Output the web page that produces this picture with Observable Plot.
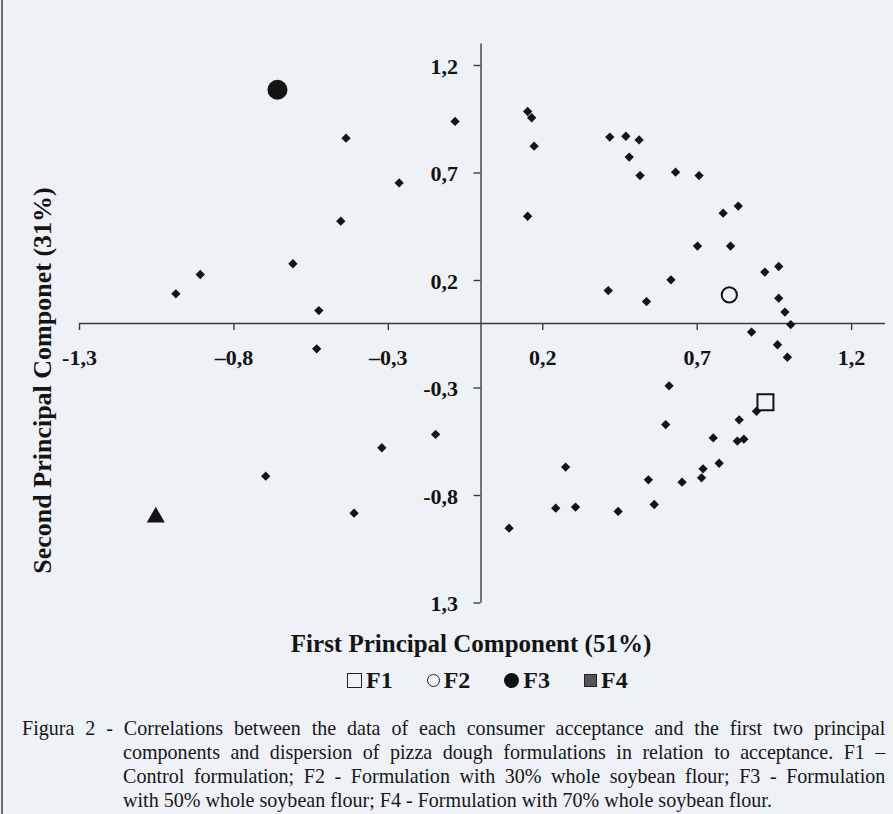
<!DOCTYPE html>
<html><head><meta charset="utf-8">
<script src="https://cdn.jsdelivr.net/npm/d3@7"></script>
<script src="https://cdn.jsdelivr.net/npm/@observablehq/plot@0.6"></script>
<style>
html,body{margin:0;padding:0;background:#eef1f6;}
body{width:893px;height:814px;overflow:hidden;position:relative;font-family:"Liberation Serif","Times New Roman",serif;color:#161616;}
#frameline{position:absolute;left:1px;top:0;width:2px;height:814px;background:#6a6d72;}
#chart{position:absolute;left:0;top:0;}
#legend{position:absolute;top:666px;left:347px;height:28px;display:flex;align-items:center;gap:34px;font-weight:bold;font-size:24px;}
#legend .item{display:flex;align-items:center;gap:4px;}
#legend .sym{display:inline-block;box-sizing:border-box;}
#caption{position:absolute;left:22px;top:716px;width:904px;transform:scaleX(0.955);transform-origin:left top;font-size:21px;line-height:24px;white-space:nowrap;}
#caption .ln{text-align:justify;text-align-last:justify;}
#caption .ln.last{text-align-last:left;}
#caption .ind{padding-left:105.8px;}
</style></head><body>
<div id="frameline"></div>
<div id="chart"></div>
<div id="legend"></div>
<div id="caption"></div>
<script>
// ---- data ----
const consumerX = [-0.454,-0.609,-0.909,-0.988,-0.525,-0.437,-0.265,-0.084,0.151,0.164,0.172,0.151,0.417,0.412,0.469,0.512,0.480,0.515,0.630,0.706,0.784,0.833,0.701,0.808,0.964,0.919,0.615,0.536,0.964,0.984,1.003,0.876,0.960,0.992,0.609,0.892,0.836,0.598,0.752,0.830,0.851,0.771,0.719,0.714,0.542,0.651,0.561,0.444,-0.147,-0.321,-0.411,0.274,0.242,0.306,0.091,-0.532,-0.697];
const consumerY = [0.476,0.278,0.228,0.138,0.060,0.862,0.654,0.940,0.986,0.957,0.825,0.499,0.867,0.153,0.871,0.854,0.774,0.688,0.704,0.688,0.513,0.546,0.360,0.360,0.265,0.239,0.203,0.102,0.118,0.053,-0.005,-0.040,-0.099,-0.157,-0.290,-0.408,-0.448,-0.470,-0.532,-0.547,-0.538,-0.650,-0.676,-0.718,-0.727,-0.738,-0.842,-0.874,-0.516,-0.578,-0.882,-0.668,-0.859,-0.854,-0.952,-0.118,-0.710];
const formNames = ["F1","F2","F3","F4"];
const formX = [0.921,0.804,-0.659,-1.053];
const formY = [-0.366,0.133,1.087,-0.901];
const xTicks = [-1.3,-0.8,-0.3,0.2,0.7,1.2];
const xTickLabels = ["-1,3","–0,8","–0,3","0,2","0,7","1,2"];
const yTicks = [1.2,0.7,0.2,-0.3,-0.8,-1.3];
const yTickLabels = ["1,2","0,7","0,2","-0,3","-0,8","1,3"];
const xTitle = "First Principal Component (51%)";
const yTitle = "Second Principal Componet (31%)";
const legendNames = ["F1","F2","F3","F4"];
const captionLines = [
  "Figura 2 - Correlations between the data of each consumer acceptance and the first two principal",
  "components and dispersion of pizza dough formulations in relation to acceptance. F1 –",
  "Control formulation; F2 - Formulation with 30% whole soybean flour; F3 - Formulation",
  "with 50% whole soybean flour; F4 - Formulation with 70% whole soybean flour."
];

// ---- styles ----
const ink = "#141414";
const axisInk = "#3c3c3c";
const font = "Liberation Serif";
const formStyle = {
  F1: {symbol: "square", fill: "none", stroke: ink, strokeWidth: 2, r: 9},
  F2: {symbol: "circle", fill: "none", stroke: ink, strokeWidth: 2, r: 7.6},
  F3: {symbol: "circle", fill: ink, stroke: "none", r: 10},
  F4: {symbol: "triangle", fill: ink, stroke: "none", r: 6.7}
};

const consumers = consumerX.map((x, i) => ({x, y: consumerY[i]}));
const forms = formNames.map((n, i) => ({name: n, x: formX[i], y: formY[i]}));
const xt = xTicks.map((v, i) => ({v, label: xTickLabels[i]}));
const yt = yTicks.map((v, i) => ({v, label: yTickLabels[i]}));

const W = 893, H = 660, mL = 79, mR = 11, mT = 43.5, mB = 57.5;
const pxX = (W - mL - mR) / 2.6, pxY = (H - mT - mB) / 2.6;
const tickLen = 7;

const chart = Plot.plot({
  width: W, height: H,
  marginLeft: mL, marginRight: mR, marginTop: mT, marginBottom: mB,
  x: {domain: [-1.3, 1.3], axis: null},
  y: {domain: [-1.3, 1.3], axis: null},
  style: {background: "transparent", fontFamily: font, color: ink, overflow: "visible"},
  marks: [
    Plot.ruleY([0], {x1: -1.3, x2: 1.31, stroke: axisInk, strokeWidth: 1.4}),
    Plot.ruleX([0], {y1: -1.3, y2: 1.3, stroke: axisInk, strokeWidth: 1.4}),
    Plot.ruleX(xt, {x: "v", y1: 0, y2: -tickLen / pxY, stroke: axisInk, strokeWidth: 1.4}),
    Plot.ruleY(yt, {y: "v", x1: 0, x2: -tickLen / pxX, stroke: axisInk, strokeWidth: 1.4}),
    Plot.text(xt, {x: "v", y: 0, text: "label", dy: 34, lineAnchor: "middle", textAnchor: "middle",
      fontSize: 22, fontWeight: "bold", fontFamily: font, fill: ink}),
    Plot.text(yt, {x: 0, y: "v", text: "label", dx: -23, dy: 1, lineAnchor: "middle", textAnchor: "end",
      fontSize: 22, fontWeight: "bold", fontFamily: font, fill: ink}),
    Plot.text([xTitle], {frameAnchor: "bottom", dx: -10, dy: 41, lineAnchor: "middle", textAnchor: "middle",
      fontSize: 25, fontWeight: "bold", fontFamily: font, fill: ink}),
    Plot.text([yTitle], {frameAnchor: "left", rotate: -90, dx: -37, dy: 57, lineAnchor: "middle", textAnchor: "middle",
      fontSize: 26, fontWeight: "bold", fontFamily: font, fill: ink}),
    Plot.dot(consumers, {x: "x", y: "y", symbol: "diamond2", fill: ink, stroke: "none", r: 4.2}),
    ...formNames.map(n => Plot.dot(forms.filter(d => d.name === n), {x: "x", y: "y", ...formStyle[n]}))
  ]
});
document.getElementById("chart").appendChild(chart);

// ---- legend ----
const legendSym = {
  F1: "width:15px;height:15px;border:1.6px solid #222;background:transparent;",
  F2: "width:13px;height:13px;border:1.6px solid #222;border-radius:50%;background:transparent;",
  F3: "width:15px;height:15px;border-radius:50%;background:#111;",
  F4: "width:13px;height:13px;border:1.6px solid #222;background:#555;"
};
const lg = document.getElementById("legend");
legendNames.forEach(n => {
  const it = document.createElement("div");
  it.className = "item";
  const s = document.createElement("span");
  s.className = "sym";
  s.style.cssText = legendSym[n];
  const t = document.createElement("span");
  t.textContent = n;
  it.appendChild(s); it.appendChild(t);
  lg.appendChild(it);
});

// ---- caption ----
const cap = document.getElementById("caption");
captionLines.forEach((line, i) => {
  const d = document.createElement("div");
  d.className = "ln" + (i > 0 ? " ind" : "") + (i === captionLines.length - 1 ? " last" : "");
  d.textContent = line;
  cap.appendChild(d);
});
</script>
</body></html>
